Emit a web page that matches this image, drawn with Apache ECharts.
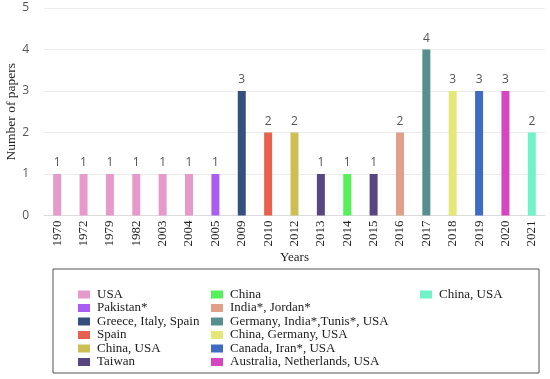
<!DOCTYPE html>
<html>
<head>
<meta charset="utf-8">
<script src="https://cdn.jsdelivr.net/npm/echarts@6/dist/echarts.min.js"></script>
<style>html,body{margin:0;padding:0;background:#fff}#c{width:550px;height:379px}</style>
</head>
<body>
<div id="c"></div>
<script>
var years = ['1970','1972','1979','1982','2003','2004','2005','2009','2010','2012','2013','2014','2015','2016','2017','2018','2019','2020','2021'];
var papers = [1,1,1,1,1,1,1,3,2,2,1,1,1,2,4,3,3,3,2];
var barGroup = [0,0,0,0,0,0,1,2,3,4,5,6,5,7,8,9,10,11,12];
var groupNames = ['USA','Pakistan*','Greece, Italy, Spain','Spain','China, USA','Taiwan','China','India*, Jordan*','Germany, India*,Tunis*, USA','China, Germany, USA','Canada, Iran*, USA','Australia, Netherlands, USA','China, USA '];
var groupColors = ['#e59acb','#ab5cf3','#35507f','#e8604e','#cdbf55','#584680','#55f05a','#e0a08a','#578f8e','#e3e879','#3f6bc4','#d646c0','#72f2c8'];
var yTicks = [0,1,2,3,4,5];

var serif = '"Liberation Serif", "Times New Roman", serif';
var sans = '"Open Sans", "Noto Sans", sans-serif';

var series = groupNames.map(function (name, g) {
  return {
    name: name,
    type: 'bar',
    stack: 'all',
    barWidth: 8,
    itemStyle: { color: groupColors[g] },
    label: { show: true, position: 'top', distance: 5, color: '#555', fontFamily: sans, fontSize: 12 },
    data: papers.map(function (v, i) { return barGroup[i] === g ? v : '-'; })
  };
});

function legendCol(names, left) {
  return {
    data: names,
    orient: 'vertical',
    left: left,
    top: 288,
    icon: 'rect',
    itemWidth: 12,
    itemHeight: 8,
    itemGap: 0.5,
    padding: 0,
    selectedMode: false,
    textStyle: { fontFamily: serif, fontSize: 13, color: '#222', lineHeight: 13, padding: [0, 0, 0, 2] }
  };
}

var chart = echarts.init(document.getElementById('c'));
chart.setOption({
  animation: false,
  grid: { left: 44, right: 5, top: 8, bottom: 163.5, outerBoundsMode: 'none', containLabel: false },
  xAxis: {
    type: 'category',
    data: years,
    name: 'Years',
    nameLocation: 'middle',
    nameGap: 36,
    nameMoveOverlap: false,
    nameTextStyle: { fontFamily: serif, fontSize: 13, color: '#222' },
    axisLine: { lineStyle: { color: '#dcdcdc' } },
    axisTick: { show: false },
    axisLabel: { rotate: 90, interval: 0, margin: 5, fontFamily: serif, fontSize: 13, color: '#222' }
  },
  yAxis: {
    type: 'value',
    min: yTicks[0],
    max: yTicks[yTicks.length - 1],
    interval: 1,
    name: 'Number of papers',
    nameLocation: 'middle',
    nameGap: 26,
    nameMoveOverlap: false,
    nameTextStyle: { fontFamily: serif, fontSize: 13.5, color: '#222' },
    axisLine: { show: false },
    axisTick: { show: false },
    axisLabel: { margin: 15, fontFamily: sans, fontSize: 12, color: '#555' },
    splitLine: { lineStyle: { color: '#ececec' } }
  },
  legend: [
    legendCol(groupNames.slice(0, 6), 78),
    legendCol(groupNames.slice(6, 12), 211),
    legendCol(groupNames.slice(12), 420)
  ],
  graphic: [{
    type: 'rect',
    shape: { x: 53, y: 269, width: 486, height: 104 },
    style: { fill: 'none', stroke: '#555', lineWidth: 1 },
    silent: true
  }],
  series: series
});
</script>
</body>
</html>
